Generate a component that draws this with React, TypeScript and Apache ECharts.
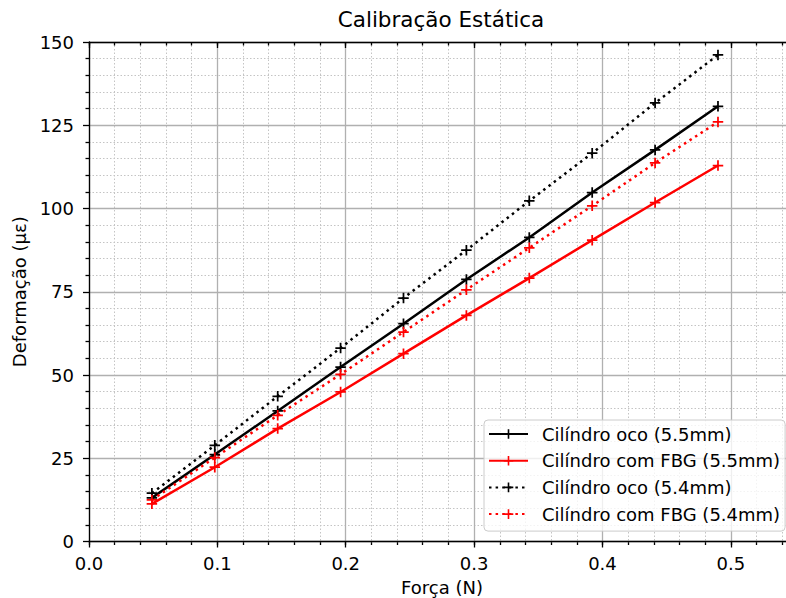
import React, { useEffect, useRef } from "react";
import * as echarts from "echarts";

// Applied force (N) for each load step
const forca = [0.049, 0.098, 0.147, 0.196, 0.245, 0.294, 0.343, 0.392, 0.441, 0.49];

// Measured strain (µε) per specimen
const ocoFino = [13.1, 26.1, 39.2, 52.4, 65.4, 78.7, 91.3, 104.8, 117.6, 130.7];
const fbgFino = [11.3, 22.3, 33.9, 44.9, 56.4, 67.9, 79.1, 90.5, 101.8, 112.9];
const ocoGrosso = [14.5, 28.9, 43.6, 58.1, 73.1, 87.5, 102.3, 116.6, 131.7, 146.1];
const fbgGrosso = [12.5, 25.2, 37.9, 50.2, 62.9, 75.6, 88.2, 100.8, 113.7, 126.0];

const seriesNames = [
  "Cilíndro oco (5.5mm)",
  "Cilíndro com FBG (5.5mm)",
  "Cilíndro oco (5.4mm)",
  "Cilíndro com FBG (5.4mm)",
];

const FONT = "DejaVu Sans";
const GRID_MAJOR = "#b0b0b0";
const GRID_MINOR = "#c4c4c4";
// "+" marker as a filled cross outline
const PLUS = "path://M0,5 H5 V0 H7 V5 H12 V7 H7 V12 H5 V7 H0 Z";
const DOTTED: number[] = [2.5, 4.1];

function pairs(ys: number[]) {
  return forca.map((x, i) => [x, ys[i]]);
}

function makeSeries(name: string, ys: number[], color: string, dotted: boolean) {
  return {
    name,
    type: "line",
    data: pairs(ys),
    xAxisIndex: 0,
    yAxisIndex: 0,
    symbol: PLUS,
    symbolSize: 10.5,
    showAllSymbol: true,
    lineStyle: { color, width: 2.5, type: dotted ? DOTTED : "solid" },
    itemStyle: { color },
    emphasis: { disabled: true },
  };
}

export default function App() {
  const ref = useRef<HTMLDivElement>(null);

  useEffect(() => {
    if (!ref.current) return;
    const chart = echarts.init(ref.current, undefined, { renderer: "svg" });

    const axisBlack = { color: "#000", width: 1.3 };

    chart.setOption({
      animation: false,
      backgroundColor: "#fff",
      textStyle: { fontFamily: FONT },
      title: {
        text: "Calibração Estática",
        left: 441,
        top: 8,
        padding: 0,
        textAlign: "center",
        textStyle: { fontFamily: FONT, fontSize: 21.5, fontWeight: "normal", color: "#000" },
      },
      grid: {
        left: 89,
        right: -9,
        top: 42,
        bottom: 56.5,
        containLabel: false,
        outerBoundsMode: "none",
      },
      legend: {
        orient: "vertical",
        left: 484,
        top: 420,
        padding: [5, 5, 8, 4],
        itemWidth: 39,
        itemHeight: 12,
        itemGap: 8.7,
        backgroundColor: "rgba(255,255,255,0.8)",
        borderColor: "#cccccc",
        borderWidth: 1,
        borderRadius: 4,
        textStyle: {
          fontFamily: FONT,
          fontSize: 18,
          lineHeight: 18,
          color: "#000",
          padding: [0, 0, 0, 9],
        },
        data: seriesNames,
      },
      xAxis: [
        {
          type: "value",
          position: "bottom",
          min: 0,
          max: 0.55,
          interval: 0.1,
          z: 2,
          name: "Força (N)",
          nameLocation: "middle",
          nameGap: 37,
          nameTextStyle: { fontFamily: FONT, fontSize: 18, lineHeight: 18, color: "#000" },
          axisLine: { show: true, onZero: false, lineStyle: axisBlack },
          axisTick: { show: true, length: 6, lineStyle: axisBlack },
          axisLabel: {
            show: true,
            margin: 13,
            fontFamily: FONT,
            fontSize: 18,
            color: "#000",
            showMaxLabel: false,
            formatter: (v: number) => v.toFixed(1),
          },
          splitLine: { show: true, lineStyle: { color: GRID_MAJOR, width: 1.3 } },
        },
        {
          type: "value",
          position: "bottom",
          min: 0,
          max: 0.55,
          interval: 0.02,
          z: 1,
          axisLine: { show: false },
          axisTick: { show: true, length: 3.5, lineStyle: axisBlack },
          axisLabel: { show: false },
          splitLine: { show: true, lineStyle: { color: GRID_MINOR, width: 1, type: [1.5, 2] } },
        },
        {
          type: "value",
          position: "top",
          min: 0,
          max: 0.55,
          interval: 0.1,
          z: 2,
          axisLine: { show: true, lineStyle: axisBlack },
          axisTick: { show: true, inside: true, length: 6, lineStyle: axisBlack },
          axisLabel: { show: false },
          splitLine: { show: false },
        },
        {
          type: "value",
          position: "top",
          min: 0,
          max: 0.55,
          interval: 0.02,
          z: 2,
          axisLine: { show: false },
          axisTick: { show: true, inside: true, length: 3.5, lineStyle: axisBlack },
          axisLabel: { show: false },
          splitLine: { show: false },
        },
      ],
      yAxis: [
        {
          type: "value",
          position: "left",
          min: 0,
          max: 150,
          interval: 25,
          z: 2,
          name: "Deformação (µε)",
          nameLocation: "middle",
          nameGap: 56,
          nameTextStyle: { fontFamily: FONT, fontSize: 18, color: "#000" },
          axisLine: { show: true, onZero: false, lineStyle: axisBlack },
          axisTick: { show: true, length: 6, lineStyle: axisBlack },
          axisLabel: { show: true, margin: 15, fontFamily: FONT, fontSize: 18, color: "#000" },
          splitLine: { show: true, lineStyle: { color: GRID_MAJOR, width: 1.3 } },
          minorTick: { show: true, splitNumber: 5, length: 3.5, lineStyle: axisBlack },
          minorSplitLine: { show: true, lineStyle: { color: GRID_MINOR, width: 1, type: [1.5, 2] } },
        },
      ],
      series: [
        makeSeries(seriesNames[0], ocoFino, "#000000", false),
        makeSeries(seriesNames[1], fbgFino, "#ff0000", false),
        makeSeries(seriesNames[2], ocoGrosso, "#000000", true),
        makeSeries(seriesNames[3], fbgGrosso, "#ff0000", true),
      ],
    });

    return () => chart.dispose();
  }, []);

  return (
    <div
      ref={ref}
      style={{ position: "absolute", left: 0, top: 0, width: 786, height: 598 }}
    />
  );
}
